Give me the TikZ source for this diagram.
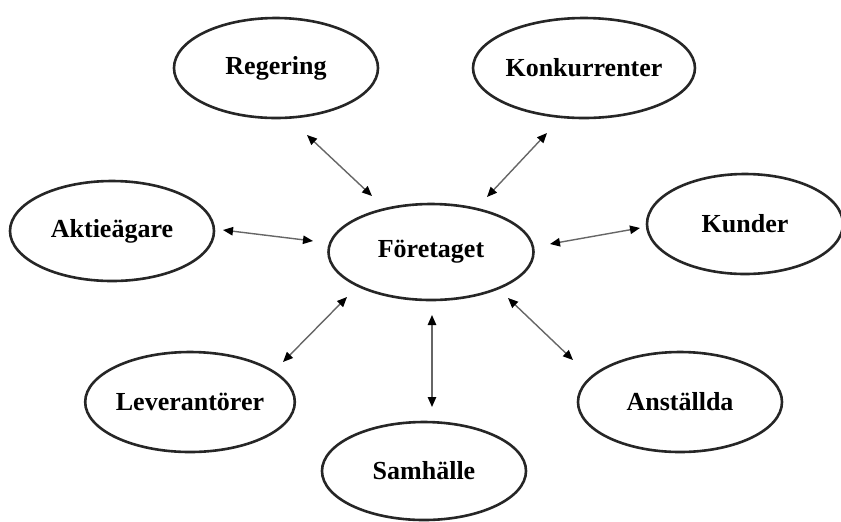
\documentclass[tikz,border=0pt]{standalone}
\usepackage{fontspec}
\setmainfont{Liberation Serif}
\usetikzlibrary{arrows.meta,shapes.geometric}

\begin{document}
\begin{tikzpicture}[
  x=0.5pt, y=-0.5pt,
  party/.style={ellipse, draw=black!85, line width=1.3pt, fill=white,
                minimum width=102pt, minimum height=50pt, inner sep=0pt,
                font=\fontsize{13}{15}\selectfont\bfseries},
  link/.style={{Triangle[length=5pt,width=4.2pt,color=black]}-{Triangle[length=5pt,width=4.2pt,color=black]},
               draw=black!60, line width=0.7pt},
]
  \useasboundingbox (0,0) rectangle (841,521);

  \node[party, minimum width=102.5pt, minimum height=48pt] (fore) at (431,252) {Företaget};
  \node[party] (reg)   at (276,68)  {Regering};
  \node[party] (konk)  at (584,68)  {Konkurrenter};
  \node[party] (aktie) at (112,231) {Aktieägare};
  \node[party, minimum width=98pt] (kund) at (745,224) {Kunder};
  \node[party] (lev)   at (190,402) {Leverantörer};
  \node[party] (anst)  at (680,402) {Anställda};
  \node[party, minimum height=49pt] (samh) at (424,471) {Samhälle};

  % arrow ends, kept off the ellipses
  \coordinate (regA)   at ([shift={(31,67)}]reg.center);
  \coordinate (regB)   at ([shift={(-59,-56)}]fore.center);
  \coordinate (konkA)  at ([shift={(-37,65)}]konk.center);
  \coordinate (konkB)  at ([shift={(56,-55)}]fore.center);
  \coordinate (aktieA) at ([shift={(111,-1)}]aktie.center);
  \coordinate (aktieB) at ([shift={(-118,-11)}]fore.center);
  \coordinate (kundA)  at ([shift={(-105,4)}]kund.center);
  \coordinate (kundB)  at ([shift={(119,-8)}]fore.center);
  \coordinate (levA)   at ([shift={(93,-40)}]lev.center);
  \coordinate (levB)   at ([shift={(-84,45)}]fore.center);
  \coordinate (samhA)  at ([shift={(8,-64)}]samh.center);
  \coordinate (samhB)  at ([shift={(1,63)}]fore.center);
  \coordinate (anstA)  at ([shift={(-107,-42)}]anst.center);
  \coordinate (anstB)  at ([shift={(77,46)}]fore.center);

  \draw[link] (regA) -- (regB);
  \draw[link] (konkA) -- (konkB);
  \draw[link] (aktieA) -- (aktieB);
  \draw[link] (kundA) -- (kundB);
  \draw[link] (levA) -- (levB);
  \draw[link] (samhA) -- (samhB);
  \draw[link] (anstA) -- (anstB);
\end{tikzpicture}
\end{document}
